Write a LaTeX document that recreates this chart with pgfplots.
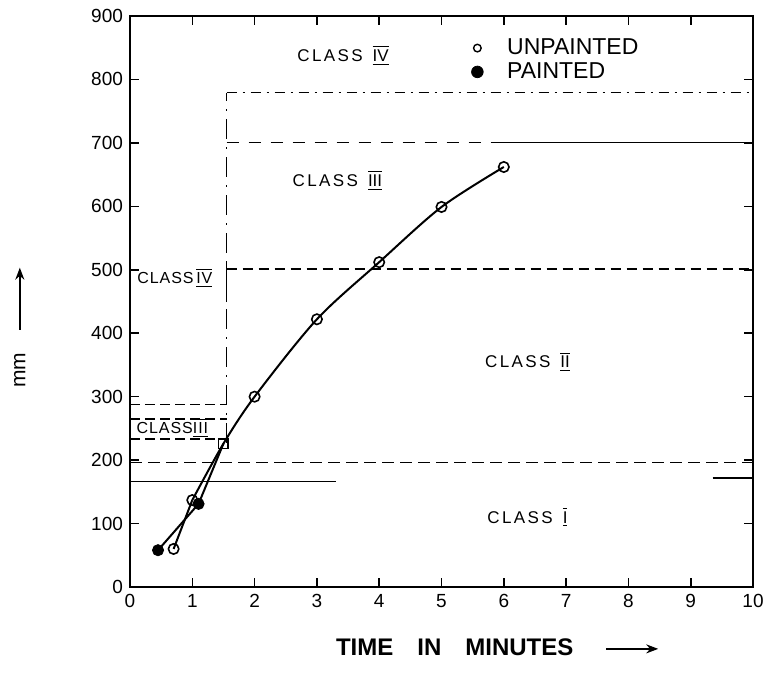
\documentclass[border=0pt]{standalone}
\usepackage{fontspec}
\setmainfont{Liberation Sans}
\usepackage{pgfplots}
\pgfplotsset{compat=1.18}
\usetikzlibrary{arrows.meta}
\newfontfamily\lettering[LetterSpace=14]{Liberation Sans}
\newfontfamily\letteringtight[LetterSpace=6]{Liberation Sans}
\newcommand\rn[1]{$\overline{\underline{\hbox{#1}}}$}
\newcommand\cls[1]{{\lettering CLASS}\hspace{5pt}\rn{#1}}
\newcommand\longarrow[1]{\tikz[baseline=-0.5ex]\draw[-{Stealth[length=6pt,width=4.5pt]}, line width=0.9pt](0,0)--(#1,0);}
\begin{document}
\begin{tikzpicture}
\begin{axis}[
  name=ax,
  scale only axis, width=311.5pt, height=285.5pt,
  xmin=0, xmax=10, ymin=0, ymax=900,
  xtick={0,1,...,10}, ytick={0,100,...,900},
  tick style={line width=0.8pt, black},
  major tick length=4.5pt,
  axis line style={line width=1.1pt},
  ticklabel style={font=\fontsize{9.5}{10}\selectfont},
  /pgf/number format/assume math mode=true,
  xlabel={\fontsize{12}{14}\selectfont\bfseries TIME\hspace{12pt}IN\hspace{12pt}MINUTES\hspace{16pt}\longarrow{26pt}},
  xlabel style={at={(axis description cs:0.59,-0.105)}, anchor=center},
  ylabel={\fontsize{10.5}{12}\selectfont mm\hspace{11pt}\longarrow{31pt}},
  ylabel style={at={(axis description cs:-0.177,0.455)}, anchor=center},
  legend style={at={(axis description cs:0.538,0.975)}, anchor=north west,
    draw=none, fill=none, font=\fontsize{11.5}{13}\selectfont, row sep=-1.5pt},
  legend cell align=left,
  clip=false,
]
% region boundaries
\addplot[forget plot, line width=0.7pt, dash pattern=on 10pt off 4pt on 1pt off 4pt] coordinates {(1.55,227) (1.55,779)};
\addplot[forget plot, line width=0.9pt] coordinates {(1.55,449) (1.55,512)};
\addplot[forget plot, line width=0.7pt, dash pattern=on 5pt off 3pt on 1pt off 3pt] coordinates {(1.55,779) (10,779)};
\addplot[forget plot, line width=0.7pt, dash pattern=on 6pt off 5pt] coordinates {(1.55,701) (5.8,701)};
\addplot[forget plot, line width=0.7pt] coordinates {(5.8,701) (10,701)};
\addplot[forget plot, line width=0.7pt, dash pattern=on 5pt off 3pt] coordinates {(1.55,501) (10,501)};
\addplot[forget plot, line width=0.7pt, dash pattern=on 5pt off 2.5pt] coordinates {(0,288) (1.55,288)};
\addplot[forget plot, line width=0.7pt, dash pattern=on 5pt off 2.5pt] coordinates {(0,265) (1.55,265)};
\addplot[forget plot, line width=0.7pt, dash pattern=on 5pt off 2.5pt] coordinates {(0,233) (1.55,233)};
\addplot[forget plot, line width=0.7pt, dash pattern=on 6pt off 3pt] coordinates {(0,196) (10,196)};
\addplot[forget plot, line width=0.7pt] coordinates {(0,166) (3.3,166)};
\addplot[forget plot, line width=0.7pt] coordinates {(9.35,172) (10,172)};
% curves
\addplot[forget plot, line width=1pt] coordinates {(0.45,58) (1.1,131) (1.5,226)};
\addplot[forget plot, line width=1pt] coordinates {(0.7,60) (1.0,137)};
\addplot[forget plot, line width=1pt, smooth] coordinates {(1.0,137) (1.5,226) (2.0,300) (3.0,422) (4.0,512) (5.0,599) (6.0,662)};
% markers
\addplot[forget plot, only marks, mark=o, mark size=2.6pt, line width=0.8pt, mark options={fill=white}] coordinates {(0.7,60) (1.0,137) (2.0,300) (3.0,422) (4.0,512) (5.0,599) (6.0,662)};
\addplot[forget plot, only marks, mark=*, mark size=2.8pt] coordinates {(0.45,58) (1.1,131)};
\addplot[forget plot, only marks, mark=square, mark size=2.4pt, line width=0.8pt, mark options={fill=white}] coordinates {(1.5,226)};
% legend
\addlegendimage{only marks, mark=o, mark size=1.9pt, line width=0.7pt}
\addlegendentry{\hspace{10pt}UNPAINTED}
\addlegendimage{only marks, mark=*, mark size=2.9pt}
\addlegendentry{\hspace{10pt}PAINTED}
% labels
\node[font=\fontsize{8.5}{10}\selectfont] at (axis cs:3.42,838) {\cls{IV}};
\node[font=\fontsize{8.5}{10}\selectfont] at (axis cs:3.33,641) {\cls{III}};
\node[font=\fontsize{8.5}{10}\selectfont] at (axis cs:6.38,355) {\cls{II}};
\node[font=\fontsize{8.5}{10}\selectfont] at (axis cs:6.38,110) {\cls{I}};
\node[font=\fontsize{8}{10}\selectfont] at (axis cs:0.72,487) {\letteringtight CLASS\,\rn{IV}};
\node[font=\fontsize{8}{10}\selectfont] at (axis cs:0.68,251) {\letteringtight CLASS\rn{III}};
\coordinate (sw) at (rel axis cs:0,0);
\coordinate (ne) at (rel axis cs:1,1);
\end{axis}
\path (sw) ++(-65pt,-43pt) coordinate (bbA);
\path (ne) ++(7.5pt,8pt) coordinate (bbB);
\pgfresetboundingbox
\path (bbA) rectangle (bbB);
\end{tikzpicture}
\end{document}
